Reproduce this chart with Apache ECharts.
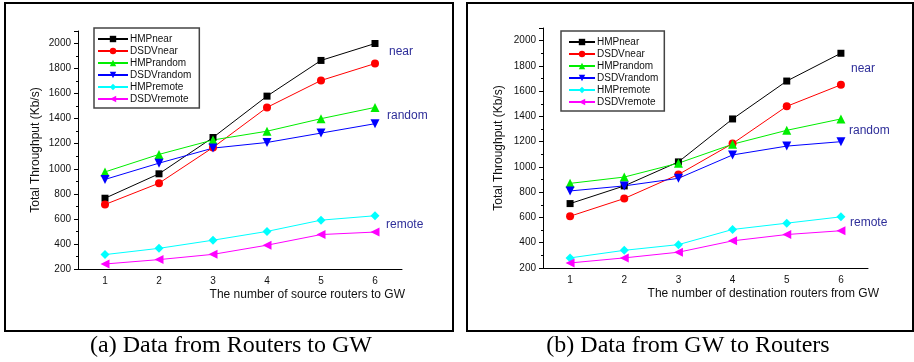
<!DOCTYPE html>
<html>
<head>
<meta charset="utf-8">
<script src="https://cdn.jsdelivr.net/npm/echarts@6/dist/echarts.min.js"></script>
<style>
html,body{margin:0;padding:0;background:#fff;}
#c{width:914px;height:362px;}
</style>
</head>
<body>
<div id="c"></div>
<script>
const categories = ['1', '2', '3', '4', '5', '6'];
const seriesNames = ['HMPnear', 'DSDVnear', 'HMPrandom', 'DSDVrandom', 'HMPremote', 'DSDVremote'];

// Panel (a): Data from Routers to GW
const a_HMPnear    = [765, 960, 1250, 1580, 1865, 2000];
const a_DSDVnear   = [715, 885, 1170, 1490, 1705, 1840];
const a_HMPrandom  = [975, 1115, 1230, 1300, 1400, 1490];
const a_DSDVrandom = [915, 1045, 1165, 1210, 1285, 1360];
const a_HMPremote  = [315, 365, 430, 500, 590, 625];
const a_DSDVremote = [240, 275, 317, 390, 475, 495];

// Panel (b): Data from GW to Routers
const b_HMPnear    = [710, 850, 1040, 1380, 1680, 1900];
const b_DSDVnear   = [610, 750, 940, 1185, 1480, 1650];
const b_HMPrandom  = [870, 920, 1030, 1180, 1290, 1380];
const b_DSDVrandom = [810, 850, 910, 1095, 1165, 1200];
const b_HMPremote  = [280, 340, 385, 505, 555, 605];
const b_DSDVremote = [240, 280, 325, 415, 465, 495];

const yTicks = {min: 200, max: 2100, interval: 200};
const xNameA = 'The number of source routers to GW';
const xNameB = 'The number of destination routers from GW';
const yName = 'Total Throughput (Kb/s)';
const captionA = '(a) Data from Routers to GW';
const captionB = '(b) Data from GW to Routers';
const groupLabels = ['near', 'random', 'remote'];

const styles = [
  {color: '#000000', symbol: 'rect', rotate: 0},
  {color: '#ff0000', symbol: 'circle', rotate: 0},
  {color: '#00ee00', symbol: 'triangle', rotate: 0},
  {color: '#0000ff', symbol: 'triangle', rotate: 180},
  {color: '#00ffff', symbol: 'diamond', rotate: 0},
  {color: '#ff00ff', symbol: 'triangle', rotate: 90}
];
const FONT = 'Liberation Sans, Arial, Helvetica, sans-serif';
const SERIF = 'Liberation Serif, Times New Roman, serif';

const dataA = [a_HMPnear, a_DSDVnear, a_HMPrandom, a_DSDVrandom, a_HMPremote, a_DSDVremote];
const dataB = [b_HMPnear, b_DSDVnear, b_HMPrandom, b_DSDVrandom, b_HMPremote, b_DSDVremote];

function mkSeries(data, xi, yi) {
  return data.map((d, i) => ({
    name: seriesNames[i],
    type: 'line',
    xAxisIndex: xi,
    yAxisIndex: yi,
    data: d,
    symbol: styles[i].symbol,
    symbolRotate: styles[i].rotate,
    symbolSize: styles[i].symbol === 'rect' ? 7 : (styles[i].symbol === 'circle' ? 8 : 9),
    showSymbol: true,
    itemStyle: {color: styles[i].color},
    lineStyle: {color: styles[i].color, width: 1},
    emphasis: {disabled: true}
  }));
}

function mkXMain(gi, name, gap) {
  return {
    type: 'category', gridIndex: gi, data: categories, boundaryGap: true, position: 'bottom',
    axisLine: {lineStyle: {color: '#000', width: 1}},
    axisTick: {alignWithLabel: true, length: 4, lineStyle: {color: '#000'}},
    axisLabel: {color: '#111', fontSize: 10, fontFamily: FONT, margin: 7},
    name: name, nameLocation: 'end', nameGap: gap,
    nameTextStyle: {color: '#111', fontSize: 12, fontFamily: FONT, align: 'right', verticalAlign: 'top', padding: [20, 0, 0, 0]},
    splitLine: {show: false}
  };
}
function mkXMinor(gi) {
  return {
    type: 'category', gridIndex: gi, data: categories, boundaryGap: true, position: 'bottom',
    axisLine: {show: false},
    axisTick: {alignWithLabel: false, length: 2, lineStyle: {color: '#000'}},
    axisLabel: {show: false},
    splitLine: {show: false}
  };
}
function mkY(gi, gap) {
  return {
    type: 'value', gridIndex: gi, min: yTicks.min, max: yTicks.max, interval: yTicks.interval,
    axisLine: {show: true, lineStyle: {color: '#000', width: 1}},
    axisTick: {show: true, length: 4, lineStyle: {color: '#000'}},
    minorTick: {show: true, splitNumber: 2, length: 2, lineStyle: {color: '#000'}},
    axisLabel: {color: '#111', fontSize: 10, fontFamily: FONT, margin: 7, showMaxLabel: false,
      formatter: v => String(v)},
    splitLine: {show: false},
    name: yName, nameLocation: 'middle', nameGap: gap, nameRotate: 90,
    nameTextStyle: {color: '#111', fontSize: 12, fontFamily: FONT}
  };
}
function mkLegend(left, top, itemWidth, pad) {
  return {
    data: seriesNames, orient: 'vertical', left: left, top: top,
    itemWidth: itemWidth, itemHeight: 8, itemGap: 2,
    padding: pad,
    borderColor: '#444', borderWidth: 1.5, backgroundColor: '#fff',
    textStyle: {color: '#111', fontSize: 10, fontFamily: FONT, padding: [0, 0, 0, -3]},
    selectedMode: false
  };
}
function label(x, y, t) {
  return {type: 'text', silent: true, x: x, y: y,
    style: {text: t, fill: '#2e2e99', font: '12px ' + FONT, textVerticalAlign: 'middle'}};
}

const chart = echarts.init(document.getElementById('c'), null, {renderer: 'canvas'});
chart.setOption({
  animation: false,
  backgroundColor: '#fff',
  grid: [
    {left: 78, top: 31, width: 324, height: 238},
    {left: 543, top: 28, width: 325, height: 240}
  ],
  xAxis: [mkXMain(0, xNameA, 3), mkXMinor(0), mkXMain(1, xNameB, 11), mkXMinor(1)],
  yAxis: [mkY(0, 36), mkY(1, 38)],
  legend: [mkLegend(94, 28, 30, [6, 8, 4, 3]), mkLegend(561, 31, 26, [6, 6, 4, 7])],
  series: mkSeries(dataA, 0, 0).concat(mkSeries(dataB, 2, 1)),
  graphic: [
    {type: 'rect', silent: true, shape: {x: 5, y: 3, width: 448, height: 328}, style: {fill: 'none', stroke: '#000', lineWidth: 2}},
    {type: 'rect', silent: true, shape: {x: 467, y: 3, width: 446, height: 328}, style: {fill: 'none', stroke: '#000', lineWidth: 2}},
    {type: 'text', silent: true, x: 231, y: 346, style: {text: captionA, fill: '#000', font: '24px ' + SERIF, textAlign: 'center', textVerticalAlign: 'middle'}},
    {type: 'text', silent: true, x: 688, y: 346, style: {text: captionB, fill: '#000', font: '24px ' + SERIF, textAlign: 'center', textVerticalAlign: 'middle'}},
    label(389, 52, groupLabels[0]),
    label(387, 116, groupLabels[1]),
    label(386, 225, groupLabels[2]),
    label(851, 69, groupLabels[0]),
    label(849, 131, groupLabels[1]),
    label(850, 223, groupLabels[2])
  ]
});
</script>
</body>
</html>
